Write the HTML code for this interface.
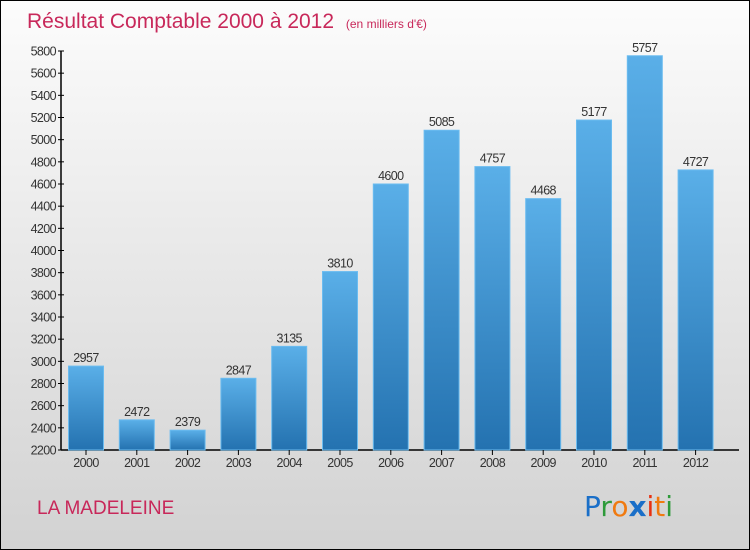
<!DOCTYPE html>
<html><head><meta charset="utf-8"><style>
body{margin:0}
#c{width:748px;height:548px;border:1px solid #000;position:relative;background:linear-gradient(#fcfcfc,#d2d2d2);font-family:"Liberation Sans",sans-serif;overflow:hidden}
</style></head><body>
<div id="c">
<svg id="s" width="748" height="548" xmlns="http://www.w3.org/2000/svg">
<defs><linearGradient id="bg" x1="0" y1="0" x2="0" y2="1"><stop offset="0" stop-color="#5aafe8"/><stop offset="1" stop-color="#2472b0"/></linearGradient></defs>
<text x="26" y="27" font-size="21" fill="#c8285a">Résultat Comptable 2000 à 2012 <tspan font-size="12" dx="6">(en milliers d'€)</tspan></text>
<text x="36" y="513" font-size="19" fill="#c8285a">LA MADELEINE</text>
<g font-size="28" font-family="'DejaVu Sans',sans-serif">
<text x="583" y="515" fill="#1a6fc8">P<tspan fill="#2e9a3a">r</tspan><tspan fill="#f07a10">o</tspan><tspan fill="#1a6fc8" font-weight="bold">x</tspan><tspan fill="#e83010">i</tspan><tspan fill="#f07a10">t</tspan><tspan fill="#2e9a3a">i</tspan></text></g>
<g id="plot"></g>
</svg></div>
<script>
const years=["2000","2001","2002","2003","2004","2005","2006","2007","2008","2009","2010","2011","2012"];
const values=[2957,2472,2379,2847,3135,3810,4600,5085,4757,4468,5177,5757,4727];
const ticks=[2200,2400,2600,2800,3000,3200,3400,3600,3800,4000,4200,4400,4600,4800,5000,5200,5400,5600,5800];
const NS="http://www.w3.org/2000/svg";
const g=document.getElementById('plot');
const y=v=>449-(v-2200)*(449-50)/3600;
const x=i=>85+i*50.8;
function mk(t,a,p){const e=document.createElementNS(NS,t);for(const k in a)e.setAttribute(k,a[k]);(p||g).appendChild(e);return e;}
let ax=mk('line',{x1:60,y1:50,x2:60,y2:449,stroke:'#000','stroke-width':1.5});


let xa=mk('line',{x1:60,y1:449,x2:738,y2:449,stroke:'#000','stroke-width':1.5});


ticks.forEach(t=>{
 mk('line',{x1:57,y1:y(t),x2:63,y2:y(t),stroke:'#000'});
 let l=mk('text',{x:55,y:y(t)+4.5,'text-anchor':'end','font-size':12.5,fill:'#333','letter-spacing':'-0.6'});
 l.textContent=t;
 
 
});
years.forEach((yr,i)=>{
 const cx=x(i);
 let r=mk('rect',{x:cx-17.5,y:y(values[i]),width:35,height:449-y(values[i]),fill:'url(#bg)',stroke:'#6bbcf0','stroke-width':1});
 
 
 mk('line',{x1:cx,y1:449,x2:cx,y2:454,stroke:'#000'});
 let v=mk('text',{x:cx,y:y(values[i])-4,'text-anchor':'middle','font-size':12.5,fill:'#333','letter-spacing':'-0.6'});
 v.textContent=values[i];
 
 
 let l=mk('text',{x:cx,y:466,'text-anchor':'middle','font-size':12.5,fill:'#333','letter-spacing':'-0.6'});
 l.textContent=yr;
 
 
});
</script>
</body></html>
